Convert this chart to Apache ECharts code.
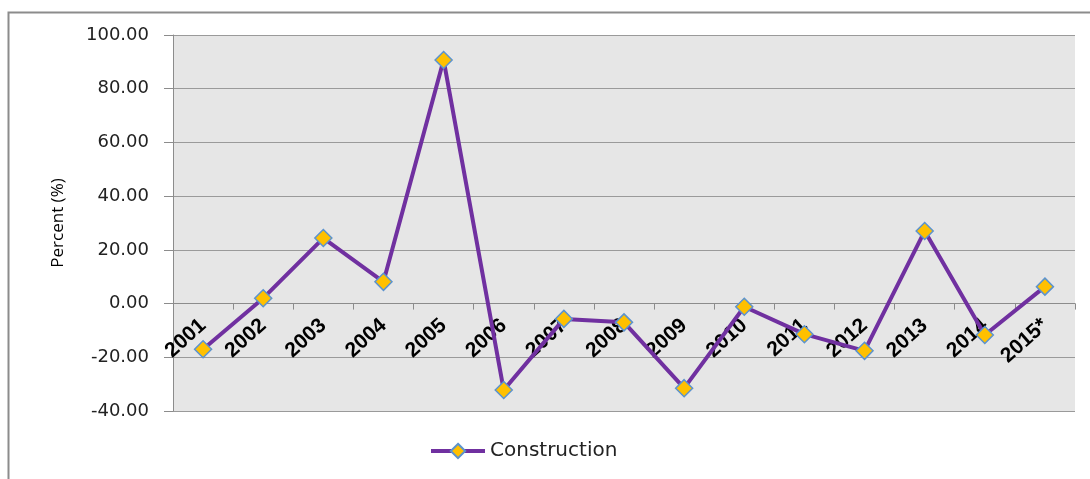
<!DOCTYPE html>
<html>
<head>
<meta charset="utf-8">
<script src="https://cdn.jsdelivr.net/npm/echarts@6/dist/echarts.min.js"></script>
<style>
  html, body { margin: 0; padding: 0; background: #fff; }
  #chart { width: 1090px; height: 479px; }
</style>
</head>
<body>
<div id="chart"></div>
<script>
// categories and values
const years = ['2001', '2002', '2003', '2004', '2005', '2006', '2007', '2008',
  '2009', '2010', '2011', '2012', '2013', '2014', '2015*'];
const construction = [-17.0, 2.0, 24.4, 8.1, 90.7, -32.2, -5.7, -7.0,
  -31.5, -1.2, -11.4, -17.6, 27.0, -11.7, 6.3];
const yTicks = { min: -40, max: 100, step: 20 };

const gridTop = 35;
const gridBottom = 68;
const chartHeight = 479;

// lift the category axis (line, ticks, labels) up to the zero line
const plotH = chartHeight - gridTop - gridBottom;
const zeroOffset = -plotH * (0 - yTicks.min) / (yTicks.max - yTicks.min);

const chart = echarts.init(document.getElementById('chart'));

const option = {
  animation: false,
  backgroundColor: '#fff',
  graphic: [
    {
      type: 'rect',
      shape: { x: 8.5, y: 12.5, width: 1200, height: 600 },
      style: { fill: 'none', stroke: '#8c8c8c', lineWidth: 2 },
      silent: true
    }
  ],
  grid: {
    left: 173,
    right: 15,
    top: gridTop,
    bottom: gridBottom,
    show: true,
    backgroundColor: '#e6e6e6',
    borderWidth: 0
  },
  legend: {
    bottom: 13,
    left: 424,
    itemWidth: 54,
    itemHeight: 18,
    itemGap: 4,
    lineStyle: { width: 4 },
    textStyle: {
      fontFamily: 'DejaVu Sans',
      fontSize: 20,
      color: '#222'
    },
    data: ['Construction']
  },
  xAxis: {
    type: 'category',
    data: years,
    boundaryGap: true,
    offset: zeroOffset,
    axisLine: {
      onZero: false,
      lineStyle: { color: '#8c8c8c', width: 1 }
    },
    axisTick: {
      show: true,
      length: 6,
      lineStyle: { color: '#8c8c8c' }
    },
    axisLabel: {
      interval: 0,
      rotate: 42,
      margin: 19,
      fontFamily: 'Liberation Sans',
      fontWeight: 'bold',
      fontSize: 21,
      color: '#000'
    },
    splitLine: { show: false }
  },
  yAxis: {
    type: 'value',
    min: yTicks.min,
    max: yTicks.max,
    interval: yTicks.step,
    name: 'Percent (%)',
    nameLocation: 'middle',
    nameGap: 106,
    nameTextStyle: {
      fontFamily: 'Open Sans',
      fontSize: 17,
      color: '#000'
    },
    axisLine: {
      show: true,
      lineStyle: { color: '#8c8c8c', width: 1 }
    },
    axisTick: {
      show: true,
      length: 9,
      lineStyle: { color: '#8c8c8c' }
    },
    axisLabel: {
      margin: 24,
      fontFamily: 'DejaVu Sans',
      fontSize: 18,
      color: '#222',
      formatter: (v) => v.toFixed(2)
    },
    splitLine: {
      show: true,
      lineStyle: { color: '#9a9a9a', width: 1 }
    }
  },
  series: [
    {
      name: 'Construction',
      type: 'line',
      data: construction,
      symbol: 'diamond',
      symbolSize: 17,
      showAllSymbol: true,
      lineStyle: { color: '#7030a0', width: 4 },
      itemStyle: {
        color: '#ffc000',
        borderColor: '#5b93cf',
        borderWidth: 1.5
      }
    }
  ]
};

chart.setOption(option);
</script>
</body>
</html>
